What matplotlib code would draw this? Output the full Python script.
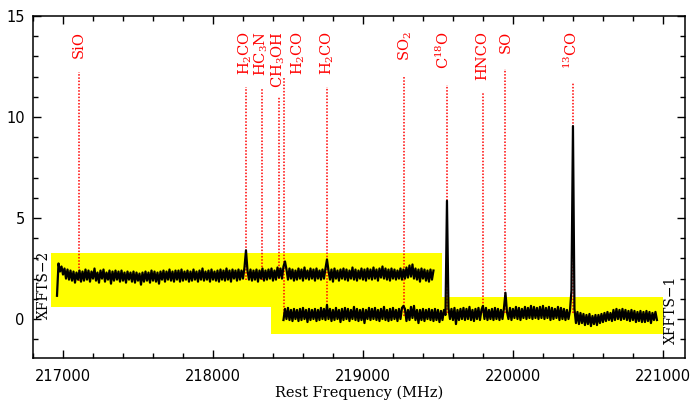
import matplotlib
matplotlib.use("Agg")
import matplotlib.pyplot as plt
import numpy as np
from matplotlib.ticker import MultipleLocator

# ---------------- data ----------------
# XFFTS-2 spectrum: first channel frequency (MHz), channel step (MHz), intensities
xffts2_start = 216960.0
xffts2_step = 10.0
xffts2_vals = [
    1.15, 2.75, 2.35, 2.60, 2.20, 2.50, 2.00, 2.45, 1.95, 2.40,
    1.90, 2.35, 1.80, 2.30, 1.95, 2.40, 1.85, 2.35, 1.90, 2.45,
    1.95, 2.40, 1.85, 2.35, 2.00, 2.50, 1.90, 2.30, 1.80, 2.40,
    2.00, 2.45, 1.85, 2.30, 1.95, 2.40, 1.75, 2.35, 1.90, 2.40,
    1.95, 2.35, 1.85, 2.40, 1.90, 2.30, 1.80, 2.35, 1.95, 2.30,
    1.85, 2.35, 1.80, 2.30, 1.90, 2.25, 1.70, 2.30, 1.85, 2.35,
    1.90, 2.30, 1.80, 2.40, 1.90, 2.35, 1.85, 2.30, 1.75, 2.35,
    1.95, 2.40, 1.85, 2.35, 1.95, 2.45, 1.90, 2.35, 1.85, 2.40,
    1.95, 2.40, 1.85, 2.45, 1.90, 2.35, 1.95, 2.40, 1.85, 2.35,
    1.90, 2.45, 1.95, 2.35, 1.85, 2.40, 1.95, 2.50, 1.90, 2.35,
    1.95, 2.40, 1.85, 2.45, 1.95, 2.35, 1.90, 2.40, 1.85, 2.45,
    1.95, 2.40, 1.90, 2.50, 1.95, 2.40, 1.85, 2.45, 2.00, 2.40,
    1.90, 2.45, 1.95, 2.40, 2.00, 2.55, 3.40, 2.40, 1.95, 2.45,
    1.90, 2.40, 1.95, 2.45, 1.85, 2.40, 2.00, 2.50, 1.90, 2.40,
    1.95, 2.45, 2.00, 2.50, 1.90, 2.40, 1.95, 2.55, 2.05, 2.50,
    2.00, 2.60, 2.85, 2.45, 1.95, 2.50, 2.00, 2.45, 1.90, 2.40,
    1.95, 2.50, 2.00, 2.45, 1.90, 2.55, 2.00, 2.40, 1.95, 2.50,
    2.00, 2.45, 1.90, 2.50, 2.00, 2.40, 1.95, 2.45, 2.00, 2.50,
    2.95, 2.40, 1.95, 2.45, 1.85, 2.50, 2.00, 2.40, 1.90, 2.45,
    2.00, 2.50, 1.95, 2.45, 1.90, 2.40, 2.00, 2.55, 1.95, 2.45,
    1.90, 2.40, 2.00, 2.50, 1.95, 2.45, 1.90, 2.50, 2.00, 2.45,
    1.95, 2.55, 2.00, 2.45, 1.90, 2.50, 2.05, 2.60, 2.00, 2.50,
    1.95, 2.45, 1.90, 2.50, 2.00, 2.45, 1.95, 2.40, 2.00, 2.50,
    1.95, 2.45, 2.00, 2.55, 2.05, 2.65, 2.10, 2.70, 2.00, 2.50,
    1.95, 2.45, 1.85, 2.50, 2.00, 2.45, 1.90, 2.40, 1.85, 2.45,
    1.95, 2.40,
]

# XFFTS-1 spectrum
xffts1_start = 218470.0
xffts1_step = 10.0
xffts1_vals = [
    -0.05, 0.50, 0.00, 0.55, -0.05, 0.45, -0.10, 0.50, 0.00, 0.45,
    -0.10, 0.50, -0.05, 0.55, 0.00, 0.45, -0.15, 0.50, -0.05, 0.45,
    0.00, 0.50, -0.10, 0.45, -0.05, 0.55, 0.00, 0.50, -0.05, 0.70,
    0.00, 0.50, -0.10, 0.45, -0.05, 0.55, 0.00, 0.45, -0.15, 0.50,
    -0.05, 0.55, 0.00, 0.50, -0.10, 0.45, 0.00, 0.60, -0.05, 0.50,
    -0.10, 0.45, -0.05, 0.50, -0.20, 0.45, 0.00, 0.55, -0.05, 0.50,
    0.00, 0.55, -0.05, 0.45, -0.10, 0.50, 0.00, 0.60, -0.05, 0.45,
    -0.10, 0.50, -0.05, 0.55, 0.00, 0.45, -0.10, 0.50, 0.00, 0.55,
    0.65, 0.50, -0.10, 0.45, -0.05, 0.60, 0.05, 0.65, -0.05, 0.45,
    -0.20, 0.45, -0.05, 0.50, -0.10, 0.45, 0.00, 0.50, -0.05, 0.45,
    -0.10, 0.50, -0.05, 0.45, -0.15, 0.40, -0.05, 0.45, 0.20, 5.85,
    0.55, 0.00, 0.50, -0.05, 0.55, -0.25, 0.45, -0.05, 0.50, 0.00,
    0.55, -0.05, 0.50, 0.00, 0.60, -0.05, 0.45, -0.10, 0.50, 0.00,
    0.55, -0.05, 0.45, 0.65, 0.00, 0.55, -0.05, 0.45, 0.00, 0.50,
    -0.05, 0.55, 0.00, 0.50, -0.05, 0.45, 0.00, 0.55, 1.30, 0.35,
    0.00, 0.55, -0.05, 0.50, 0.05, 0.60, 0.00, 0.55, -0.05, 0.50,
    0.05, 0.60, 0.00, 0.55, 0.05, 0.65, 0.00, 0.60, 0.05, 0.55,
    0.00, 0.60, 0.05, 0.65, 0.00, 0.55, 0.05, 0.60, -0.05, 0.55,
    0.00, 0.50, 0.05, 0.60, -0.05, 0.55, 0.00, 0.50, -0.05, 0.45,
    0.00, 0.40, 1.40, 9.55, 0.50, -0.20, 0.35, -0.25, 0.30, -0.20,
    0.25, -0.30, 0.20, -0.25, 0.25, -0.35, 0.15, -0.25, 0.20, -0.30,
    0.20, -0.20, 0.25, -0.15, 0.30, -0.10, 0.35, -0.05, 0.30, -0.10,
    0.45, -0.05, 0.50, 0.00, 0.45, -0.05, 0.50, 0.00, 0.45, -0.05,
    0.40, -0.10, 0.45, -0.05, 0.40, -0.15, 0.35, -0.10, 0.40, -0.15,
    0.35, -0.15, 0.40, -0.10, 0.35, -0.20, 0.30, -0.05, 0.35, -0.05,
]

# highlighted (yellow) band extents of each backend
band_names = ["XFFTS\u22122", "XFFTS\u22121"]
band_freq = [(216920, 219527), (218387, 221000)]
band_int = [(0.59, 3.28), (-0.72, 1.09)]
band_label_pos = [(216875, 1.68), (221053, 0.45)]

# line identifications
line_names = ["SiO", r"H$_2$CO", r"HC$_3$N", r"CH$_3$OH", r"H$_2$CO", r"H$_2$CO",
              r"SO$_2$", r"C$^{18}$O", "HNCO", "SO", r"$^{13}$CO"]
line_freqs = [217105, 218222, 218325, 218440, 218476, 218760,
              219276, 219560, 219798, 219949, 220399]
label_freqs = [217105, 218215, 218320, 218435, 218570, 218765,
               219282, 219535, 219798, 219949, 220390]
line_tops = [12.24, 11.5, 11.4, 11.0, 12.0, 11.5, 12.0, 11.6, 11.25, 12.4, 11.75]
line_bottoms = [1.9, 1.95, 1.95, 2.0, 0.1, 0.2, 0.15, 0.3, 0.3, 0.3, 0.3]

x_ticks = [217000, 218000, 219000, 220000, 221000]
y_ticks = [0, 5, 10, 15]

# ---------------- plot ----------------
plt.rcParams["mathtext.fontset"] = "dejavuserif"

fig = plt.figure(figsize=(6.91, 4.01), dpi=100)
ax = fig.add_axes([33 / 691, 43 / 401, 652 / 691, 342 / 401])

for (fa, fb), (i0, i1) in zip(band_freq, band_int):
    ax.fill_between([fa, fb], [i0, i0], [i1, i1], color="#ffff00", lw=0, zorder=1)

for f, top, bot in zip(line_freqs, line_tops, line_bottoms):
    ax.plot([f, f], [bot, top], color="red", lw=1.1, ls=(0, (1, 1.1)), zorder=2)

for name, f in zip(line_names, label_freqs):
    ax.text(f, 14.25, name, rotation=90, ha="center", va="top", color="red",
            fontsize=10.5, family="DejaVu Serif", zorder=4)

f2 = xffts2_start + xffts2_step * np.arange(len(xffts2_vals))
f1 = xffts1_start + xffts1_step * np.arange(len(xffts1_vals))
ax.plot(f2, xffts2_vals, color="black", lw=1.6, zorder=3)
ax.plot(f1, xffts1_vals, color="black", lw=1.6, zorder=3)

for name, (fx, fy) in zip(band_names, band_label_pos):
    ax.text(fx, fy, name, rotation=90, ha="center", va="center", color="black",
            fontsize=10, family="DejaVu Serif", zorder=4)

ax.set_xlim(216800, 221147)
ax.set_ylim(-1.93, 15)
ax.set_xticks(x_ticks)
ax.set_yticks(y_ticks)
ax.set_xticklabels([str(t) for t in x_ticks])
ax.set_yticklabels([str(t) for t in y_ticks])
ax.xaxis.set_minor_locator(MultipleLocator(200))
ax.yaxis.set_minor_locator(MultipleLocator(1))
ax.tick_params(which="both", direction="in", top=True, right=True, width=1.0,
               labelsize=10.5)
ax.tick_params(which="major", length=6)
ax.tick_params(which="minor", length=3.3)
ax.tick_params(axis="x", pad=8)
ax.tick_params(axis="y", pad=6)
for s in ax.spines.values():
    s.set_linewidth(1.1)
ax.set_xlabel("Rest Frequency (MHz)", family="DejaVu Serif", fontsize=10.5, labelpad=1)

fig.savefig("out.png", dpi=100)
